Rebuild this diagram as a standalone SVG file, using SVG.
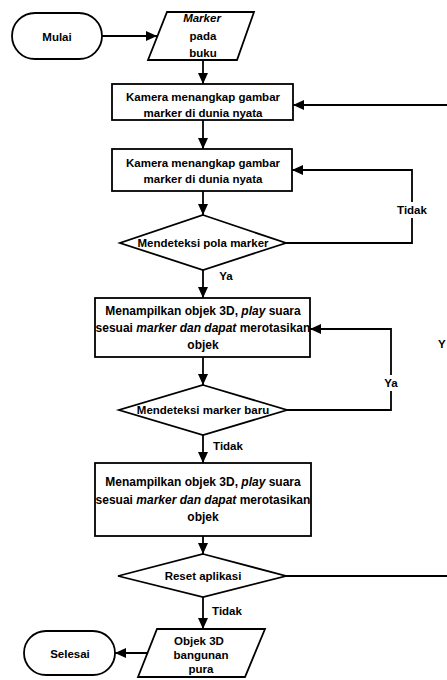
<svg xmlns="http://www.w3.org/2000/svg" width="447" height="680" viewBox="0 0 447 680">
<defs>
<marker id="ah" markerUnits="userSpaceOnUse" markerWidth="12" markerHeight="10" refX="11" refY="5" orient="auto">
<path d="M0,0 L11,5 L0,10 Z" fill="#000"/>
</marker>
<style>
.s{fill:#fff;stroke:#000;stroke-width:1.8}
.c{fill:none;stroke:#000;stroke-width:1.8}
.a{marker-end:url(#ah)}
text{font-family:"Liberation Sans",Arial,sans-serif;font-weight:bold;font-size:11.5px;text-anchor:middle;fill:#000}
.b{font-size:12px}
.i{font-style:italic}
.lb{fill:#fff;stroke:none}
</style>
</defs>
<rect width="447" height="680" fill="#fff"/>
<g id="connectors">
<path class="c a" d="M102,36 L157,36"/>
<path class="c a" d="M203,60 L203,84"/>
<path class="c a" d="M203,120 L203,149"/>
<path class="c a" d="M203,191 L203,215"/>
<path class="c a" d="M286,243 L412,243 L412,170 L292,170"/>
<rect class="lb" x="396" y="202" width="32" height="16"/>
<text x="412" y="214">Tidak</text>
<path class="c a" d="M203,270 L203,298"/>
<text x="226" y="280">Ya</text>
<path class="c a" d="M203,357 L203,385"/>
<path class="c a" d="M287,410 L391,410 L391,329 L310,329"/>
<rect class="lb" x="381" y="375" width="20" height="16"/>
<text x="391" y="387">Ya</text>
<path class="c a" d="M203,435 L203,463"/>
<text x="228" y="450">Tidak</text>
<path class="c a" d="M203,536 L203,554"/>
<path class="c" d="M286,576 L460,576"/>
<path class="c a" d="M460,105 L293,105"/>
<text x="438" y="348" style="text-anchor:start">Y</text>
<path class="c a" d="M203,597 L203,629"/>
<text x="227" y="615">Tidak</text>
<path class="c a" d="M148,653 L115,653"/>
</g>
<g id="mulai">
<rect class="s" x="12" y="13" width="90" height="46" rx="23"/>
<text x="57" y="40.5">Mulai</text>
</g>
<g id="marker-buku">
<polygon class="s" points="167,12 254,12 237,60 148,60"/>
<text x="202" y="22" class="i">Marker</text>
<text x="203" y="39.5">pada</text>
<text x="203" y="57">buku</text>
</g>
<g id="kamera1">
<rect class="s" x="112" y="84" width="181" height="36"/>
<text x="203" y="101">Kamera menangkap gambar</text>
<text x="203" y="117">marker di dunia nyata</text>
</g>
<g id="kamera2">
<rect class="s" x="112" y="149" width="180" height="42"/>
<text x="203" y="167">Kamera menangkap gambar</text>
<text x="203" y="183">marker di dunia nyata</text>
</g>
<g id="deteksi-pola">
<polygon class="s" points="203,215 286,243 203,270 120,243"/>
<text x="203" y="247">Mendeteksi pola marker</text>
</g>
<g id="tampil1">
<rect class="s" x="95" y="298" width="215" height="59"/>
<text class="b" x="203" y="315">Menampilkan objek 3D, <tspan class="i">play</tspan> suara</text>
<text class="b" x="203" y="332">sesuai <tspan class="i">marker dan dapat</tspan> merotasikan</text>
<text class="b" x="203" y="349">objek</text>
</g>
<g id="deteksi-baru">
<polygon class="s" points="203,385 287,410 203,435 119,410"/>
<text x="203" y="414">Mendeteksi marker baru</text>
</g>
<g id="tampil2">
<rect class="s" x="95" y="463" width="216" height="73"/>
<text class="b" x="203" y="486">Menampilkan objek 3D, <tspan class="i">play</tspan> suara</text>
<text class="b" x="203" y="504">sesuai <tspan class="i">marker dan dapat</tspan> merotasikan</text>
<text class="b" x="203" y="521">objek</text>
</g>
<g id="reset">
<polygon class="s" points="203,554 286,576 203,597 118,576"/>
<text x="203" y="580">Reset aplikasi</text>
</g>
<g id="objek-pura">
<polygon class="s" points="157,629 265,629 245,677 138,677"/>
<text x="199" y="645">Objek 3D</text>
<text x="201" y="659">bangunan</text>
<text x="201" y="673">pura</text>
</g>
<g id="selesai">
<rect class="s" x="24" y="631" width="91" height="44" rx="22"/>
<text x="70" y="658">Selesai</text>
</g>
</svg>
